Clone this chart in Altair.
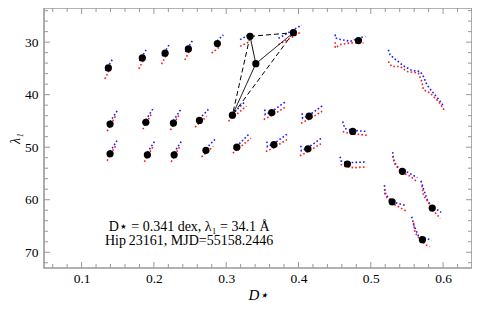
import altair as alt
import pandas as pd

# ---------------- data ----------------
DOT_D = [0.137, 0.184, 0.2155, 0.2477, 0.2878, 0.333, 0.393, 0.483, 0.341,
         0.1394, 0.1888, 0.227, 0.263, 0.3086, 0.363, 0.4147, 0.475,
         0.1394, 0.191, 0.228, 0.272, 0.3147, 0.366, 0.413, 0.4677,
         0.5437, 0.5295, 0.585, 0.5714]
DOT_L = [34.9, 33.0, 32.1, 31.3, 30.27, 28.9, 28.2, 29.7, 34.1,
         45.6, 45.25, 45.4, 44.9, 43.9, 43.4, 44.1, 47.0,
         51.25, 51.45, 51.45, 50.6, 50.0, 49.5, 50.3, 53.2,
         54.6, 60.4, 61.6, 67.6]
TRAIL_OF_DOT = ["A", "A", "A", "A", "A4", "T1", "T2", "R1", "",
                "B", "B", "B", "B2", "C2", "C", "C", "R2",
                "B", "B", "B", "B2", "C2", "C", "C", "R3",
                "R4", "R5", "R6", "R7"]

# trail shapes: offsets from the dot (dD, dLambda) for the blue and red series
TRAIL_SHAPES = {
    "A":  {"blue": ([-0.0041, 0.0069], [0.57, -1.90]),
           "red":  ([-0.0048, 0.0028], [2.09, 0.0])},
    "A4": {"blue": ([-0.0041, 0.0083], [0.0, -1.65]),
           "red":  ([-0.0079, 0.0037], [1.84, 0.57])},
    "T1": {"blue": ([-0.0138, 0.0046], [0.63, -0.76]),
           "red":  ([-0.0138, 0.0], [1.9, 0.95])},
    "T2": {"blue": ([-0.0207, 0.0115], [1.08, -1.46]),
           "red":  ([-0.0207, 0.0115], [2.28, -0.19])},
    "B":  {"blue": ([-0.0028, 0.0104], [0.19, -2.66]),
           "red":  ([-0.0041, 0.0076], [1.33, -1.52])},
    "B2": {"blue": ([-0.0037, 0.0124], [0.19, -2.09]),
           "red":  ([-0.006, 0.0101], [1.27, -0.76])},
    "C":  {"blue": ([-0.0097, -0.009, 0.0, 0.0194], [-0.57, 0.38, -0.19, -2.09]),
           "red":  ([-0.0111, 0.0, 0.018], [1.33, 0.57, -0.95])},
    "C2": {"blue": ([-0.0041, 0.018], [0.38, -2.66]),
           "red":  ([-0.0055, 0.0194], [1.14, -1.71])},
    "R1": {"blue": ([-0.0322, -0.0322, -0.0249, -0.011, 0.0093], [-1.14, -0.51, -0.19, 0.13, -0.82]),
           "red":  ([-0.0322, -0.0322, -0.0249, -0.011, 0.0069], [0.32, 1.39, 0.76, 0.44, 0.44])},
    "R2": {"blue": ([-0.0138, -0.011, 0.0, 0.0207], [-1.9, -0.57, -0.19, 0.0]),
           "red":  ([-0.0138, -0.0069, 0.0207], [0.0, 0.29, 0.76])},
    "R3": {"blue": ([-0.0101, -0.0087, -0.001, 0.0267], [-1.39, -0.57, -0.25, -0.38]),
           "red":  ([-0.0093, -0.0055, 0.0083, 0.0267], [0.06, 0.38, 0.7, 0.57])},
    "R4": {"blue": ([-0.0134, -0.0124, -0.0079, -0.001, 0.0083, 0.0207], [-3.67, -2.28, -1.01, -0.25, 0.25, 1.2]),
           "red":  ([-0.0134, -0.0101, -0.001, 0.0106, 0.0207], [-2.91, -1.33, 0.25, 0.89, 2.03])},
    "R5": {"blue": ([-0.0106, -0.0097, -0.0028, 0.0065, 0.0203], [-3.17, -1.46, -0.51, 0.25, 0.76]),
           "red":  ([-0.0106, -0.0073, 0.0018, 0.011, 0.0211], [-2.41, -0.82, 0.44, 1.08, 1.9])},
    "R6": {"blue": ([-0.0156, -0.012, -0.0073, -0.0028, 0.0124], [-5.19, -3.61, -1.71, -0.57, 0.82]),
           "red":  ([-0.0142, -0.012, -0.0051, 0.0018, 0.011], [-4.24, -2.34, -1.08, 0.51, 1.96])},
    "R7": {"blue": ([-0.0148, -0.0115, -0.0055, 0.0014, 0.0128], [-4.37, -2.6, -0.7, -0.38, 0.13]),
           "red":  ([-0.0124, -0.0101, -0.0032, 0.0059, 0.0106], [-3.23, -1.33, 0.0, 1.08, 1.33])},
}

# trail in the upper right with no fitted dot
FREE_BLUE_D = [0.5243, 0.5267, 0.5336, 0.5451, 0.5567, 0.5682, 0.5728, 0.5775, 0.5866, 0.5935, 0.6004]
FREE_BLUE_L = [31.46, 32.41, 33.23, 34.5, 35.39, 35.58, 36.53, 38.1, 39.68, 40.82, 42.09]
FREE_RED_D = [0.5243, 0.529, 0.5405, 0.5498, 0.5658, 0.5705, 0.5728, 0.582, 0.5935, 0.6028]
FREE_RED_L = [33.68, 34.63, 34.63, 35.58, 35.88, 37.48, 39.05, 39.68, 41.27, 43.17]

# triangle between dots
TRI_FROM = [8, 8, 8, 5, 5, 6]
TRI_TO = [5, 6, 13, 6, 13, 13]
TRI_STYLE = ["solid", "solid", "solid", "dashed", "dashed", "dashed"]

X_MAJOR = [0.1, 0.2, 0.3, 0.4, 0.5, 0.6]
X_MINOR = [0.06, 0.08, 0.12, 0.14, 0.16, 0.18, 0.22, 0.24, 0.26, 0.28, 0.32, 0.34,
           0.36, 0.38, 0.42, 0.44, 0.46, 0.48, 0.52, 0.54, 0.56, 0.58, 0.62, 0.64]
Y_MAJOR = [30, 40, 50, 60, 70]
Y_MINOR = [24, 26, 28, 32, 34, 36, 38, 42, 44, 46, 48, 52, 54, 56, 58, 62, 64, 66, 68, 72]

NOTE_LINES = ["D\u22c6 = 0.341 dex, \u03bb\u2081 = 34.1 \u00c5", "Hip\u200923161, MJD=55158.2446"]
NOTE_D = [0.2487, 0.2487]
NOTE_L = [65.90, 68.56]

# ---------------- tables ----------------
rows = []
for i, name in enumerate(TRAIL_OF_DOT):
    if not name:
        continue
    for col in ("blue", "red"):
        dxs, dys = TRAIL_SHAPES[name][col]
        for k, (dx, dy) in enumerate(zip(dxs, dys)):
            rows.append({"trail": f"{i}-{col}", "c": col, "k": k,
                         "x": DOT_D[i] + dx, "y": DOT_L[i] + dy})
for k, (x, y) in enumerate(zip(FREE_BLUE_D, FREE_BLUE_L)):
    rows.append({"trail": "free-blue", "c": "blue", "k": k, "x": x, "y": y})
for k, (x, y) in enumerate(zip(FREE_RED_D, FREE_RED_L)):
    rows.append({"trail": "free-red", "c": "red", "k": k, "x": x, "y": y})
trails = pd.DataFrame(rows)

dots = pd.DataFrame({"x": DOT_D, "y": DOT_L})
edges = pd.DataFrame({
    "x": [DOT_D[a] for a in TRI_FROM], "y": [DOT_L[a] for a in TRI_FROM],
    "x2": [DOT_D[b] for b in TRI_TO], "y2": [DOT_L[b] for b in TRI_TO],
    "style": TRI_STYLE})
note = pd.DataFrame({"x": NOTE_D, "y": NOTE_L, "t": NOTE_LINES})

W, H = 428, 260
FONT = "Liberation Serif"
GRAY = "#999999"

xs = alt.Scale(domain=[0.048, 0.64], nice=False, zero=False)
ys = alt.Scale(domain=[23.5, 73], reverse=True, nice=False, zero=False)
xaxis = alt.Axis(values=X_MAJOR, format=".1f", ticks=False, domain=False, grid=False,
                 labelFont=FONT, labelFontSize=13.5, labelPadding=3, labelColor="black",
                 title="D\u22c6", titleFont=FONT, titleFontSize=15, titleFontStyle="italic",
                 titleFontWeight="normal", titlePadding=3, titleColor="black")
yaxis = alt.Axis(values=Y_MAJOR, ticks=False, domain=False, grid=False,
                 labelFont=FONT, labelFontSize=13.5, labelPadding=6, labelColor="black",
                 title="\u03bb\u2081", titleFont=FONT, titleFontSize=14, titleFontStyle="italic",
                 titleFontWeight="normal", titlePadding=2, titleColor="black")


def X(f="x"):
    return alt.X(f"{f}:Q", scale=xs, axis=xaxis)


def Y(f="y"):
    return alt.Y(f"{f}:Q", scale=ys, axis=yaxis)


trail_layer = alt.Chart(trails).mark_line(
    strokeWidth=1.6, strokeDash=[1.6, 2.2], strokeCap="butt", opacity=0.9
).encode(
    x=X(), y=Y(), detail="trail:N", order="k:Q",
    color=alt.Color("c:N", scale=alt.Scale(domain=["blue", "red"], range=["#0000ff", "#ff0000"]), legend=None),
)

edge_layer = alt.Chart(edges).mark_rule(color="black", strokeWidth=1).encode(
    x=X(), y=Y(), x2="x2:Q", y2="y2:Q",
    strokeDash=alt.StrokeDash("style:N", scale=alt.Scale(domain=["solid", "dashed"], range=[[1, 0], [5, 3]]), legend=None),
)

dot_layer = alt.Chart(dots).mark_circle(size=52, color="black", opacity=1).encode(x=X(), y=Y())

note_layer = alt.Chart(note).mark_text(
    font=FONT, fontSize=14, align="center", baseline="alphabetic", color="black"
).encode(x=X(), y=Y(), text="t:N")

xt_major = pd.DataFrame({"x": X_MAJOR})
xt_minor = pd.DataFrame({"x": X_MINOR})
yt_major = pd.DataFrame({"y": Y_MAJOR})
yt_minor = pd.DataFrame({"y": Y_MINOR})


def xticks(df, length):
    bot = alt.Chart(df).mark_rule(color=GRAY, strokeWidth=1).encode(
        x=X(), y=alt.value(H), y2=alt.value(H - length))
    top = alt.Chart(df).mark_rule(color=GRAY, strokeWidth=1).encode(
        x=X(), y=alt.value(0), y2=alt.value(length))
    return [bot, top]


def yticks(df, length):
    left = alt.Chart(df).mark_rule(color=GRAY, strokeWidth=1).encode(
        y=Y(), x=alt.value(0), x2=alt.value(length))
    right = alt.Chart(df).mark_rule(color=GRAY, strokeWidth=1).encode(
        y=Y(), x=alt.value(W), x2=alt.value(W - length))
    return [left, right]


layers = [trail_layer, edge_layer, dot_layer, note_layer]
layers += xticks(xt_major, 6) + xticks(xt_minor, 4) + yticks(yt_major, 6) + yticks(yt_minor, 4)

chart = alt.layer(*layers).properties(
    width=W, height=H,
    autosize=alt.AutoSizeParams(type="none"),
    padding={"left": 36, "top": 0, "right": 0, "bottom": 41},
).configure_view(stroke=GRAY, strokeWidth=1.6)

chart.save("out.html", embed_options={"renderer": "svg", "actions": False})
